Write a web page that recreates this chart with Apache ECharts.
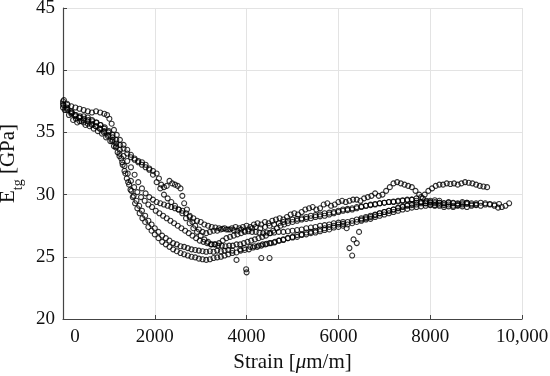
<!DOCTYPE html>
<html>
<head>
<meta charset="utf-8">
<script src="https://cdn.jsdelivr.net/npm/echarts@6/dist/echarts.min.js"></script>
<style>html,body{margin:0;padding:0;background:#fff}#c{width:550px;height:376px}</style>
</head>
<body>
<div id="c"></div>
<script>
// Tick values
var xTicks = [0, 2000, 4000, 6000, 8000, 10000];
var yTicks = [20, 25, 30, 35, 40, 45];

// Specimen curves: [strain (µm/m), E_tg (GPa)]
var spec1 = [[0,37.3],[80,37.0],[170,36.7],[260,36.4],[350,36.2],[440,36.0],[530,35.9],[620,35.7],[710,35.5],[800,35.3],[890,35.0],[980,34.7],[1070,34.3],[1150,33.8],[1230,33.1],[1300,32.4],[1360,31.7],[1420,31.0],[1470,30.4],[1520,29.8],[1570,29.3],[1620,28.9],[1670,28.5],[1730,28.1],[1790,27.8],[1860,27.4],[1930,27.1],[2000,26.8],[2080,26.5],[2160,26.2],[2240,26.0],[2320,25.8],[2400,25.6],[2480,25.45],[2560,25.3],[2640,25.2],[2720,25.1],[2800,25.0],[2880,24.95],[2960,24.85],[3040,24.8],[3120,24.75],[3200,24.8],[3280,24.9],[3360,24.95],[3440,25.0],[3520,25.1],[3600,25.2],[3690,25.3],[3780,25.35],[3870,25.5],[3960,25.55],[4050,25.6],[4140,25.75],[4230,25.8],[4320,25.9],[4410,26.0],[4500,26.1],[4600,26.15],[4700,26.3],[4800,26.35],[4900,26.5],[5000,26.55],[5100,26.6],[5200,26.75],[5300,26.8],[5400,26.9],[5500,26.95],[5600,27.05],[5700,27.15],[5800,27.2],[5900,27.35],[6000,27.4],[6100,27.5],[6200,27.6],[6300,27.7],[6400,27.8],[6500,27.9],[6600,28.0],[6700,28.05],[6800,28.2],[6900,28.3],[7000,28.4],[7100,28.5],[7200,28.6],[7300,28.7],[7400,28.8],[7500,28.85],[7600,28.95],[7700,29.0],[7800,29.05],[7900,29.1],[8000,29.15],[8100,29.1],[8200,29.2],[8300,29.15],[8400,29.2],[8500,29.1],[8600,29.15],[8700,29.2],[8800,29.25],[8900,29.2],[9000,29.3],[9100,29.35],[9200,29.3],[9300,29.2],[9400,29.1],[9480,28.95],[9560,29.0],[9640,29.1],[9720,29.3]];

var spec2 = [[20,37.6],[100,37.2],[190,36.6],[280,36.1],[360,35.9],[450,35.8],[540,35.7],[630,35.6],[720,35.5],[810,35.3],[900,35.1],[990,34.8],[1080,34.4],[1160,33.9],[1230,33.3],[1290,32.6],[1340,31.9],[1390,31.3],[1440,30.8],[1490,30.3],[1540,29.9],[1600,29.5],[1660,29.1],[1720,28.7],[1790,28.3],[1860,27.9],[1930,27.6],[2000,27.3],[2080,27.0],[2160,26.7],[2240,26.5],[2320,26.3],[2400,26.1],[2480,26.0],[2560,25.85],[2640,25.8],[2720,25.7],[2800,25.6],[2880,25.55],[2960,25.5],[3040,25.45],[3120,25.4],[3200,25.45],[3280,25.4],[3360,25.5],[3440,25.45],[3520,25.5],[3600,25.55],[3690,25.5],[3780,24.75],[3860,25.6],[3950,25.7],[3990,24.0],[4000,23.75],[4080,25.8],[4170,25.85],[4260,25.9],[4320,24.9],[4350,26.0],[4440,26.05],[4500,24.9],[4530,26.1],[4620,26.2],[4710,26.3],[4800,26.4],[4900,26.5],[5000,26.6],[5100,26.75],[5200,26.8],[5300,26.95],[5400,27.0],[5500,27.1],[5600,27.2],[5700,27.3],[5800,27.4],[5900,27.5],[6000,27.6],[6100,27.65],[6200,27.8],[6300,27.9],[6400,28.0],[6500,28.1],[6600,28.2],[6700,28.3],[6800,28.4],[6900,28.5],[7000,28.6],[7100,28.7],[7200,28.8],[7300,28.9],[7400,29.0],[7500,29.1],[7600,29.15],[7700,29.2],[7800,29.3],[7900,29.3],[8000,29.35],[8100,29.4],[8200,29.35],[8300,29.3],[8400,29.35],[8500,29.3],[8600,29.25],[8700,29.3],[8800,29.35],[8900,29.3],[9000,29.2]];

var spec3 = [[0,37.0],[90,36.8],[180,36.5],[270,36.3],[360,36.2],[450,36.3],[540,36.2],[630,36.0],[720,35.8],[810,35.6],[900,35.3],[990,35.0],[1080,34.6],[1160,34.1],[1240,33.6],[1320,33.1],[1400,32.7],[1480,32.2],[1560,31.6],[1640,31.0],[1720,30.5],[1800,30.1],[1880,29.8],[1960,29.6],[2040,29.4],[2120,29.3],[2200,29.2],[2280,29.1],[2360,29.0],[2440,28.9],[2520,28.8],[2600,28.7],[2680,28.5],[2760,28.3],[2840,28.1],[2920,27.9],[3000,27.8],[3080,27.6],[3160,27.5],[3240,27.4],[3320,27.35],[3400,27.3],[3480,27.25],[3560,27.2],[3640,27.2],[3720,27.15],[3800,27.1],[3880,27.2],[3960,27.1],[4040,27.05],[4120,27.0],[4200,27.0],[4280,26.95],[4360,26.9],[4440,26.95],[4520,26.9],[4600,26.95],[4700,27.0],[4800,27.0],[4900,27.05],[5000,27.1],[5100,27.15],[5200,27.2],[5300,27.3],[5400,27.35],[5500,27.4],[5600,27.5],[5700,27.55],[5800,27.6],[5900,27.7],[6000,27.75],[6100,27.8],[6180,27.3],[6240,25.7],[6300,25.1],[6330,26.4],[6400,26.1],[6450,27.0],[6500,28.0],[6600,28.1],[6700,28.2],[6800,28.35],[6900,28.5],[7000,28.6],[7100,28.7],[7200,28.8],[7300,28.95],[7400,29.05],[7500,29.15],[7600,29.25],[7700,29.35],[7800,29.4],[7900,29.45],[8000,29.5],[8100,29.55],[8200,29.5]];

var spec4 = [[0,37.5],[90,37.3],[180,37.1],[270,37.0],[360,36.9],[450,36.8],[540,36.7],[630,36.6],[720,36.7],[810,36.6],[900,36.5],[960,36.4],[1010,36.1],[1060,35.7],[1110,35.2],[1170,34.8],[1240,34.4],[1320,34.0],[1400,33.6],[1480,33.2],[1560,32.9],[1640,32.6],[1720,32.4],[1800,32.2],[1880,32.0],[1960,31.9],[2040,31.7],[2090,31.3],[2140,30.8],[2200,30.6],[2260,30.7],[2320,31.1],[2380,30.9],[2440,30.8],[2500,30.7],[2560,30.5],[2600,29.9],[2640,29.3],[2700,28.8],[2760,28.2],[2820,27.8],[2880,27.5],[2960,27.2],[3040,27.0],[3120,26.9],[3200,27.0],[3280,27.1],[3360,27.1],[3440,27.2],[3520,27.3],[3600,27.2],[3680,27.3],[3760,27.4],[3840,27.3],[3920,27.4],[4000,27.5],[4080,27.4],[4160,27.6],[4240,27.7],[4320,27.6],[4400,27.8],[4480,27.7],[4560,27.9],[4640,28.0],[4720,28.1],[4800,28.0],[4880,28.2],[4960,28.4],[5040,28.5],[5120,28.4],[5200,28.6],[5280,28.8],[5360,28.9],[5440,29.0],[5520,28.8],[5600,28.9],[5680,29.2],[5760,29.3],[5840,29.1],[5920,29.2],[6000,29.4],[6080,29.5],[6160,29.4],[6240,29.5],[6320,29.6],[6400,29.6],[6480,29.5],[6560,29.7],[6640,29.8],[6720,29.9],[6800,30.1],[6880,29.9],[6960,30.0],[7040,30.3],[7120,30.6],[7200,30.9],[7280,31.0],[7360,30.9],[7440,30.8],[7520,30.7],[7600,30.6],[7680,30.3],[7760,30.0],[7840,29.7],[7920,29.5],[8000,29.4],[8100,29.3],[8200,29.35],[8300,29.3],[8400,29.4],[8500,29.35],[8600,29.3],[8700,29.4],[8800,29.35]];

var spec5 = [[40,36.8],[130,36.4],[220,36.0],[310,35.8],[400,35.9],[490,35.6],[580,35.5],[670,35.3],[760,35.1],[850,34.9],[940,34.6],[1030,34.3],[1110,33.9],[1190,33.4],[1270,32.9],[1340,32.3],[1410,31.7],[1480,31.1],[1550,30.6],[1620,30.2],[1700,29.8],[1780,29.5],[1860,29.2],[1940,29.0],[2020,28.7],[2100,28.5],[2180,28.3],[2260,28.1],[2340,27.9],[2420,27.7],[2500,27.5],[2580,27.3],[2660,27.1],[2740,26.9],[2820,26.7],[2900,26.5],[2980,26.3],[3060,26.2],[3140,26.1],[3220,26.0],[3300,26.0],[3380,25.9],[3460,25.9],[3540,25.85],[3620,25.9],[3700,25.9],[3780,26.0],[3860,26.0],[3940,26.1],[4020,26.2],[4100,26.3],[4180,26.4],[4260,26.5],[4340,26.6],[4420,26.7],[4500,26.9],[4580,27.1],[4660,27.3],[4740,27.5],[4820,27.6],[4900,27.7],[5000,27.8],[5100,27.9],[5200,28.0],[5300,28.05],[5400,28.1],[5500,28.2],[5600,28.25],[5700,28.3],[5800,28.4],[5900,28.5],[6000,28.6],[6100,28.7],[6200,28.75],[6300,28.8],[6400,28.9],[6500,29.0],[6600,29.1],[6700,29.15],[6800,29.2],[6900,29.3],[7000,29.35],[7100,29.4],[7200,29.45],[7300,29.5],[7400,29.55],[7500,29.6],[7600,29.6],[7700,29.5],[7800,29.4],[7900,29.3],[8000,29.2],[8100,29.15],[8200,29.1],[8300,29.0],[8400,29.05],[8500,29.0],[8600,29.1],[8700,29.05],[8800,29.0],[8900,29.1],[9000,29.15],[9100,29.1],[9200,29.2],[9300,29.25],[9400,29.2],[9500,29.25]];

var spec6 = [[10,37.2],[100,36.9],[190,36.6],[280,36.4],[370,36.3],[460,36.1],[550,36.0],[640,35.9],[730,35.8],[820,35.6],[910,35.4],[1000,35.1],[1080,34.8],[1160,34.4],[1240,34.0],[1320,33.7],[1400,33.3],[1480,33.0],[1560,32.8],[1640,32.7],[1720,32.6],[1800,32.4],[1880,32.1],[1960,31.6],[2040,31.0],[2120,30.5],[2200,30.0],[2280,29.7],[2360,29.4],[2440,29.1],[2520,28.8],[2600,28.5],[2680,28.1],[2760,27.7],[2840,27.3],[2920,27.0],[3000,26.7],[3080,26.4],[3160,26.2],[3240,26.0],[3320,26.0],[3400,26.1],[3480,26.3],[3560,26.5],[3640,26.6],[3720,26.7],[3800,26.8],[3880,26.9],[3960,27.0],[4040,27.2],[4120,27.3],[4200,27.4],[4300,27.3],[4400,27.4],[4500,27.5],[4600,27.6],[4700,27.7],[4800,27.8],[4900,27.9],[5000,28.0],[5100,28.05],[5200,28.1],[5300,28.2],[5400,28.3],[5500,28.35],[5600,28.4],[5700,28.5],[5800,28.55],[5900,28.6],[6000,28.7],[6100,28.8],[6200,28.85],[6300,28.9],[6400,29.0],[6500,29.05],[6600,29.1],[6700,29.2],[6800,29.25],[6900,29.3],[7000,29.35],[7100,29.4],[7200,29.4],[7300,29.45],[7400,29.5],[7500,29.55],[7600,29.6],[7700,29.7],[7800,29.8],[7880,30.0],[7960,30.3],[8040,30.5],[8120,30.7],[8200,30.8],[8280,30.8],[8360,30.9],[8440,30.85],[8520,30.9],[8600,30.8],[8680,30.9],[8760,31.0],[8840,30.95],[8920,30.9],[9000,30.8],[9080,30.7],[9160,30.65],[9240,30.6]];

var specimens = [spec1, spec2, spec3, spec4, spec5, spec6];

var FONT = '"Liberation Serif", "Times New Roman", serif';
var chart = echarts.init(document.getElementById('c'), null, {renderer: 'canvas'});

var series = specimens.map(function (d) {
  return {
    type: 'scatter',
    data: d,
    symbol: 'circle',
    symbolSize: 5,
    itemStyle: {color: 'rgba(255,255,255,0)', borderColor: '#000', borderWidth: 1.1},
    emphasis: {disabled: true},
    silent: true
  };
});

chart.setOption({
  animation: false,
  backgroundColor: '#fff',
  grid: {left: 63, right: 28, top: 8, bottom: 57, containLabel: false, outerBoundsMode: 'none'},
  xAxis: {
    type: 'value',
    min: xTicks[0], max: xTicks[xTicks.length - 1], interval: 2000,
    name: 'Strain [{mu|\u03bc}m/m]',
    nameLocation: 'middle', nameGap: 33,
    nameTextStyle: {fontFamily: FONT, fontSize: 21, color: '#111',
      rich: {mu: {fontFamily: FONT, fontSize: 21, fontStyle: 'italic', color: '#111'}}},
    axisLine: {show: true, lineStyle: {color: '#444', width: 1.2}},
    axisTick: {show: true, inside: true, length: 4, lineStyle: {color: '#444'}},
    splitLine: {show: true, lineStyle: {color: '#e3e3e3', width: 1}},
    axisLabel: {
      fontFamily: FONT, fontSize: 19, color: '#111', margin: 9,
      formatter: function (v) {
        if (v === 0) return '{z|0}';
        if (v >= 10000) return '10,000';
        return String(v);
      },
      rich: {z: {fontFamily: FONT, fontSize: 19, color: '#111', padding: [0, 0, 0, 24]}}
    }
  },
  yAxis: {
    type: 'value',
    min: yTicks[0], max: yTicks[yTicks.length - 1], interval: 5,
    name: '{b|E}{s|tg}{b| [GPa]}',
    nameLocation: 'middle', nameGap: 33, nameRotate: 90,
    nameTextStyle: {
      fontFamily: FONT, color: '#111',
      rich: {
        b: {fontFamily: FONT, fontSize: 21, color: '#111', lineHeight: 22, verticalAlign: 'top'},
        s: {fontFamily: FONT, fontSize: 14, color: '#111', lineHeight: 27, verticalAlign: 'bottom'}
      }
    },
    axisLine: {show: true, lineStyle: {color: '#444', width: 1.2}},
    axisTick: {show: true, inside: true, length: 4, lineStyle: {color: '#444'}},
    splitLine: {show: true, lineStyle: {color: '#e3e3e3', width: 1}},
    axisLabel: {fontFamily: FONT, fontSize: 19, color: '#111', margin: 8}
  },
  series: series
});
</script>
</body>
</html>
